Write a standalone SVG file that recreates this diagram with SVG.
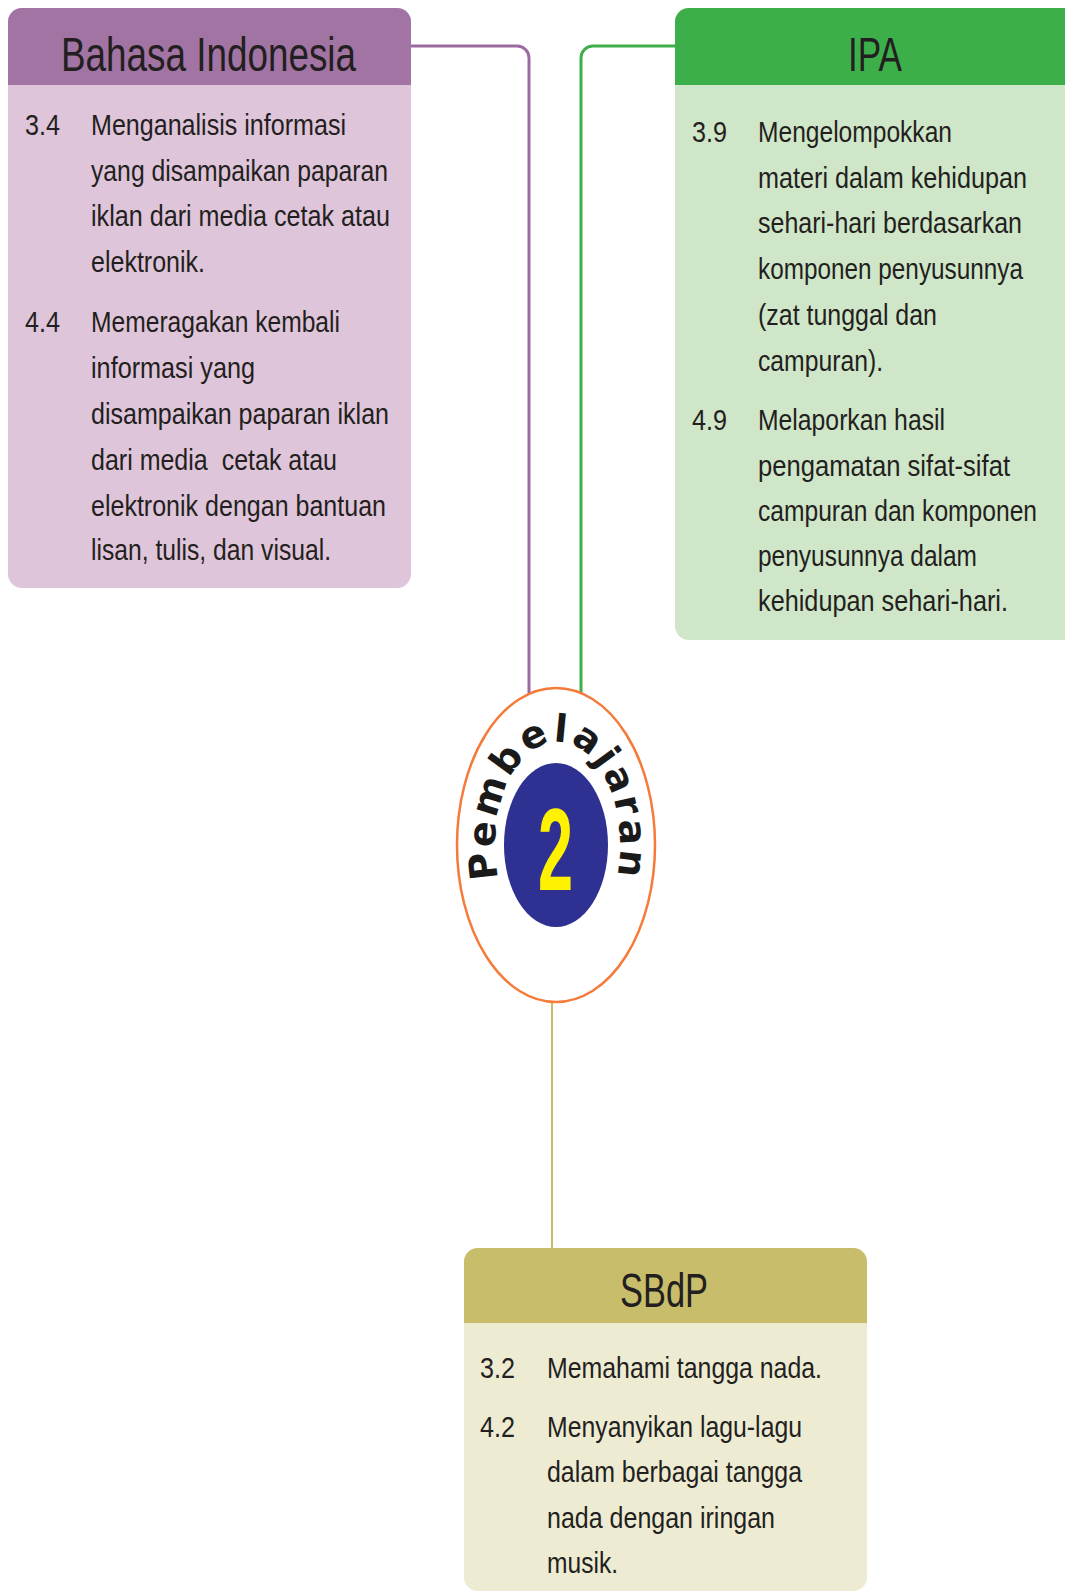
<svg xmlns="http://www.w3.org/2000/svg" xmlns:xlink="http://www.w3.org/1999/xlink" width="1065" height="1593" viewBox="0 0 1065 1593">
<style>
.title{font-family:"Liberation Sans",Arial,sans-serif;font-size:48px;fill:#231f20;}
.t{font-family:"Liberation Sans",Arial,sans-serif;font-size:30px;fill:#231f20;}
.curve{font-family:"DejaVu Sans",sans-serif;font-weight:bold;font-size:38px;fill:#1a1a1a;letter-spacing:3px;}
.two{font-family:"Liberation Sans",Arial,sans-serif;font-weight:bold;font-size:116px;fill:#fff200;}
.conn{fill:none;}
</style>
<defs>
<path id="arcPath" d="M499.2 882 A62.5 103 0 1 1 615.8 882"/>
</defs>
<rect width="1065" height="1593" fill="#ffffff"/>
<g id="connectors">
<path class="conn" d="M411 46 H517 A12 12 0 0 1 529 58 V694" stroke="#9b6aa0" stroke-width="3"/>
<path class="conn" d="M675 46 H593 A12 12 0 0 0 581 58 V693" stroke="#3daf4a" stroke-width="3"/>
<path class="conn" d="M552 1002 V1248" stroke="#c6bc6c" stroke-width="2"/>
</g>
<g id="bahasa-indonesia">
<rect x="8" y="8" width="403" height="580" rx="14" fill="#dfc5d9"/>
<path d="M8 85 V22 A14 14 0 0 1 22 8 H397 A14 14 0 0 1 411 22 V85 Z" fill="#a274a4"/>
<text class="title" x="61" y="71" textLength="295" lengthAdjust="spacingAndGlyphs">Bahasa Indonesia</text>
<text class="t" x="25" y="135" textLength="35" lengthAdjust="spacingAndGlyphs">3.4</text>
<text class="t" x="91" y="135" textLength="255" lengthAdjust="spacingAndGlyphs">Menganalisis informasi</text>
<text class="t" x="91" y="181" textLength="297" lengthAdjust="spacingAndGlyphs">yang disampaikan paparan</text>
<text class="t" x="91" y="226" textLength="299" lengthAdjust="spacingAndGlyphs">iklan dari media cetak atau</text>
<text class="t" x="91" y="272" textLength="114" lengthAdjust="spacingAndGlyphs">elektronik.</text>
<text class="t" x="25" y="332" textLength="35" lengthAdjust="spacingAndGlyphs">4.4</text>
<text class="t" x="91" y="332" textLength="249" lengthAdjust="spacingAndGlyphs">Memeragakan kembali</text>
<text class="t" x="91" y="378" textLength="164" lengthAdjust="spacingAndGlyphs">informasi yang</text>
<text class="t" x="91" y="424" textLength="298" lengthAdjust="spacingAndGlyphs">disampaikan paparan iklan</text>
<text class="t" x="91" y="470" textLength="246" lengthAdjust="spacingAndGlyphs" style="white-space:pre">dari media  cetak atau</text>
<text class="t" x="91" y="516" textLength="295" lengthAdjust="spacingAndGlyphs">elektronik dengan bantuan</text>
<text class="t" x="91" y="560" textLength="240" lengthAdjust="spacingAndGlyphs">lisan, tulis, dan visual.</text>
</g>
<g id="ipa">
<rect x="675" y="8" width="420" height="632" rx="14" fill="#d0e6c8"/>
<path d="M675 85 V22 A14 14 0 0 1 689 8 H1080 V85 Z" fill="#3daf4a"/>
<text class="title" x="848" y="71" textLength="54" lengthAdjust="spacingAndGlyphs">IPA</text>
<text class="t" x="692" y="142" textLength="35" lengthAdjust="spacingAndGlyphs">3.9</text>
<text class="t" x="758" y="142" textLength="194" lengthAdjust="spacingAndGlyphs">Mengelompokkan</text>
<text class="t" x="758" y="188" textLength="269" lengthAdjust="spacingAndGlyphs">materi dalam kehidupan</text>
<text class="t" x="758" y="233" textLength="264" lengthAdjust="spacingAndGlyphs">sehari-hari berdasarkan</text>
<text class="t" x="758" y="279" textLength="265" lengthAdjust="spacingAndGlyphs">komponen penyusunnya</text>
<text class="t" x="758" y="325" textLength="179" lengthAdjust="spacingAndGlyphs">(zat tunggal dan</text>
<text class="t" x="758" y="371" textLength="125" lengthAdjust="spacingAndGlyphs">campuran).</text>
<text class="t" x="692" y="430" textLength="35" lengthAdjust="spacingAndGlyphs">4.9</text>
<text class="t" x="758" y="430" textLength="187" lengthAdjust="spacingAndGlyphs">Melaporkan hasil</text>
<text class="t" x="758" y="476" textLength="252" lengthAdjust="spacingAndGlyphs">pengamatan sifat-sifat</text>
<text class="t" x="758" y="521" textLength="279" lengthAdjust="spacingAndGlyphs">campuran dan komponen</text>
<text class="t" x="758" y="566" textLength="219" lengthAdjust="spacingAndGlyphs">penyusunnya dalam</text>
<text class="t" x="758" y="611" textLength="250" lengthAdjust="spacingAndGlyphs">kehidupan sehari-hari.</text>
</g>
<g id="pembelajaran-2">
<ellipse cx="556" cy="845" rx="99" ry="157" fill="#ffffff" stroke="#f47b3a" stroke-width="2.5"/>
<ellipse cx="556" cy="845" rx="52" ry="82" fill="#2e3192"/>
<text class="two" x="538" y="890" textLength="35" lengthAdjust="spacingAndGlyphs">2</text>
<text class="curve"><textPath xlink:href="#arcPath" href="#arcPath" startOffset="50%" text-anchor="middle">Pembelajaran</textPath></text>
</g>
<g id="sbdp">
<rect x="464" y="1248" width="403" height="343" rx="14" fill="#eeebd3"/>
<path d="M464 1323 V1262 A14 14 0 0 1 478 1248 H853 A14 14 0 0 1 867 1262 V1323 Z" fill="#c7bd6b"/>
<text class="title" x="620" y="1307" textLength="88" lengthAdjust="spacingAndGlyphs">SBdP</text>
<text class="t" x="480" y="1378" textLength="35" lengthAdjust="spacingAndGlyphs">3.2</text>
<text class="t" x="547" y="1378" textLength="275" lengthAdjust="spacingAndGlyphs">Memahami tangga nada.</text>
<text class="t" x="480" y="1437" textLength="35" lengthAdjust="spacingAndGlyphs">4.2</text>
<text class="t" x="547" y="1437" textLength="255" lengthAdjust="spacingAndGlyphs">Menyanyikan lagu-lagu</text>
<text class="t" x="547" y="1482" textLength="255" lengthAdjust="spacingAndGlyphs">dalam berbagai tangga</text>
<text class="t" x="547" y="1528" textLength="228" lengthAdjust="spacingAndGlyphs">nada dengan iringan</text>
<text class="t" x="547" y="1573" textLength="71" lengthAdjust="spacingAndGlyphs">musik.</text>
</g>
</svg>
